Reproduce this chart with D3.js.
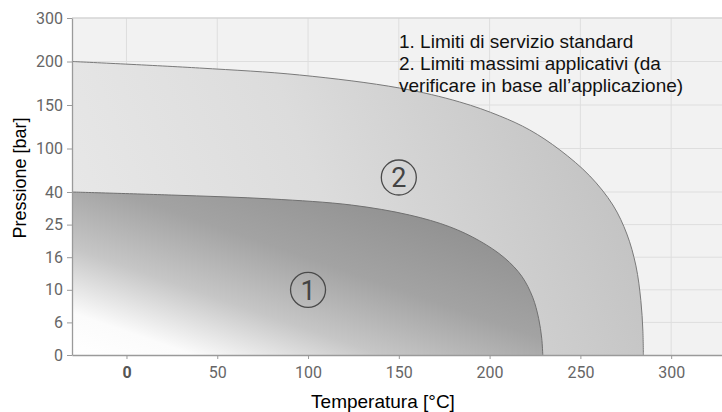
<!DOCTYPE html>
<html>
<head>
<meta charset="utf-8">
<script src="https://cdn.jsdelivr.net/npm/d3@7"></script>
<style>
  body { margin: 0; background: #fff; }
  svg { display: block; }
</style>
</head>
<body>
<div id="chart"></div>
<script>
// pressure ticks (not linear: the axis is drawn with even steps)
var pTicks = [0, 6, 10, 16, 25, 40, 100, 150, 200, 300];
var tTicks = [0, 50, 100, 150, 200, 250, 300];

// 2. limiti massimi applicativi
var outerT = [-30, 40.2, 95.3, 150.4, 183.5, 205.6, 222.1, 238.7, 255.2, 267.9, 275.6, 280.6, 283.3, 284.4, 284.7];
var outerP = [200, 192.5, 184.5, 169.5, 153.5, 137.4, 121.3, 98, 62.1, 34, 22.4, 14.4, 8.7, 4.6, 0];

// 1. limiti di servizio standard
var innerT = [-30, 24.7, 79.8, 123.9, 155.9, 178, 194.5, 208.3, 217.7, 223.7, 227, 228.7, 229.3];
var innerP = [40, 38.6, 36.8, 34, 29.4, 24.4, 20.5, 15.85, 12.5, 9.1, 6.5, 3.1, 0];

var labels = [
  { n: "1", t: 100, p: 10 },
  { n: "2", t: 150, p: 60 }
];

var legendLines = [
  "1. Limiti di servizio standard",
  "2. Limiti massimi applicativi (da",
  "verificare in base all\u2019applicazione)"
];

var W = 722, H = 412;
var margin = { top: 18, right: 0, bottom: 57, left: 72 };
var width = W - margin.left - margin.right,
    height = H - margin.top - margin.bottom;

var svg = d3.select("#chart").append("svg")
    .attr("width", W)
    .attr("height", H);

var g = svg.append("g")
    .attr("transform", "translate(" + margin.left + "," + margin.top + ")");

var x = d3.scaleLinear().domain([-30, 328]).range([0, width]);

// lower part 0..40 has narrower steps than 40..300
var yIdx = d3.scaleLinear().domain([0, 5, 9]).range([height, 174, 0]);
var y = d3.scaleLinear()
    .domain(pTicks)
    .range(pTicks.map(function(d, i) { return yIdx(i); }));

// gradients
var defs = svg.append("defs");
var gInner = defs.append("linearGradient")
    .attr("id", "gInner")
    .attr("gradientUnits", "userSpaceOnUse")
    .attr("x1", 0).attr("y1", height)
    .attr("x2", 100).attr("y2", height - 290);
[[0, "#ffffff"], [0.13, "#fbfbfb"], [0.33, "#c6c6c6"], [0.55, "#a3a3a3"], [1, "#858585"]]
  .forEach(function(s) {
    gInner.append("stop").attr("offset", s[0]).attr("stop-color", s[1]);
  });

var gOuter = defs.append("linearGradient")
    .attr("id", "gOuter")
    .attr("gradientUnits", "userSpaceOnUse")
    .attr("x1", 0).attr("y1", height)
    .attr("x2", 540).attr("y2", 120);
[[0, "#eaeaea"], [0.5, "#dcdcdc"], [1, "#c2c2c2"]]
  .forEach(function(s) {
    gOuter.append("stop").attr("offset", s[0]).attr("stop-color", s[1]);
  });

// background
g.append("rect")
    .attr("width", width)
    .attr("height", height)
    .attr("fill", "#f2f2f2");

// grid
g.append("g")
  .selectAll("line")
  .data(tTicks)
  .enter().append("line")
    .attr("x1", function(d) { return x(d); })
    .attr("x2", function(d) { return x(d); })
    .attr("y1", 0).attr("y2", height)
    .attr("stroke", "#dedede");
g.append("g")
  .selectAll("line")
  .data(pTicks.slice(1))
  .enter().append("line")
    .attr("x1", 0).attr("x2", width)
    .attr("y1", function(d) { return y(d); })
    .attr("y2", function(d) { return y(d); })
    .attr("stroke", "#dedede");

var area = d3.area()
    .x(function(d) { return x(d[0]); })
    .y0(y(0))
    .y1(function(d) { return y(d[1]); })
    .curve(d3.curveCatmullRom.alpha(0.5));

var line = d3.line()
    .x(function(d) { return x(d[0]); })
    .y(function(d) { return y(d[1]); })
    .curve(d3.curveCatmullRom.alpha(0.5));

var outer = d3.zip(outerT, outerP);
var inner = d3.zip(innerT, innerP);

g.append("path").datum(outer).attr("d", area).attr("fill", "url(#gOuter)");
g.append("path").datum(outer).attr("d", line)
    .attr("fill", "none").attr("stroke", "#7a7a7a").attr("stroke-width", 1);

g.append("path").datum(inner).attr("d", area).attr("fill", "url(#gInner)");
g.append("path").datum(inner).attr("d", line)
    .attr("fill", "none").attr("stroke", "#707070").attr("stroke-width", 1);

// top border
g.append("line")
    .attr("x1", 0).attr("x2", width)
    .attr("y1", 0).attr("y2", 0)
    .attr("stroke", "#cfcfcf");

// circled numbers
var lab = g.append("g").selectAll("g")
  .data(labels)
  .enter().append("g")
    .attr("transform", function(d) { return "translate(" + x(d.t) + "," + y(d.p) + ")"; });
lab.append("circle")
    .attr("r", 17.5)
    .attr("fill", "none")
    .attr("stroke", "#4a4a4a")
    .attr("stroke-width", 1.3);
lab.append("text")
    .attr("text-anchor", "middle")
    .attr("dy", "0.36em")
    .style("font-family", "Roboto, 'Liberation Sans', sans-serif")
    .style("font-size", "27px")
    .style("fill", "#444")
    .text(function(d) { return d.n; });

// axes
var xAxis = g.append("g")
    .attr("transform", "translate(0," + height + ")")
    .call(d3.axisBottom(x).tickValues(tTicks).tickSize(4).tickSizeOuter(0).tickPadding(8));
var yAxis = g.append("g")
    .call(d3.axisLeft(y).tickValues(pTicks).tickSize(5).tickSizeOuter(0).tickPadding(4));

[xAxis, yAxis].forEach(function(a) {
  a.select(".domain").attr("stroke", "#9a9a9a").attr("stroke-width", 1.3);
  a.selectAll(".tick line").attr("stroke", "#9a9a9a");
  a.selectAll(".tick text")
    .style("font-family", "Roboto, sans-serif")
    .style("font-size", "16px")
    .style("fill", "#666");
});
xAxis.selectAll(".tick text")
    .style("font-weight", function(d) { return d === 0 ? "bold" : "normal"; })
    .style("fill", function(d) { return d === 0 ? "#555" : "#666"; });

// axis titles
svg.append("text")
    .attr("text-anchor", "middle")
    .attr("x", 383)
    .attr("y", 408)
    .style("font-family", "'Liberation Sans', Arial, sans-serif")
    .style("font-size", "19px")
    .text("Temperatura [°C]");

svg.append("text")
    .attr("text-anchor", "middle")
    .attr("transform", "translate(26,178) rotate(-90)")
    .style("font-family", "'Liberation Sans', Arial, sans-serif")
    .style("font-size", "18px")
    .text("Pressione [bar]");

// legend text
svg.append("g").selectAll("text")
  .data(legendLines)
  .enter().append("text")
    .attr("x", 399)
    .attr("y", function(d, i) { return 48 + i * 22; })
    .style("font-family", "'Liberation Sans', Arial, sans-serif")
    .style("font-size", "19px")
    .style("fill", "#111")
    .text(function(d) { return d; });
</script>
</body>
</html>
